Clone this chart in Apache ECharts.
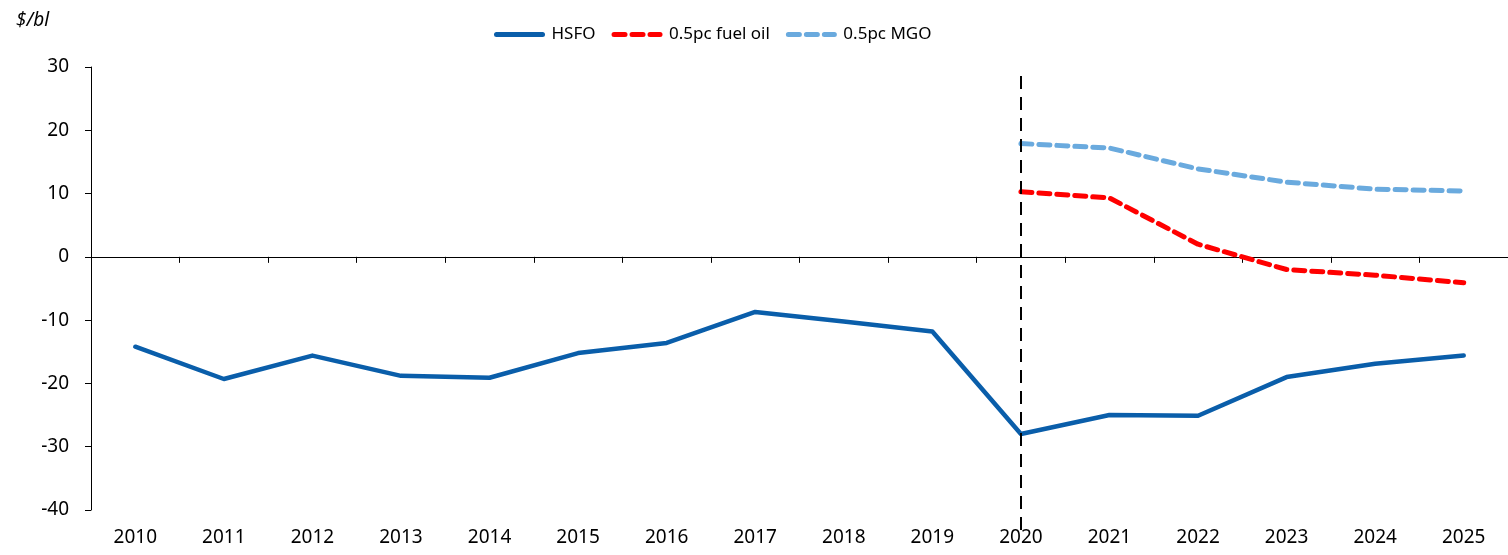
<!DOCTYPE html>
<html><head><meta charset="utf-8">
<script src="https://cdn.jsdelivr.net/npm/echarts@6/dist/echarts.min.js"></script>
<style>html,body{margin:0;padding:0;background:#fff}#c{width:1508px;height:555px}</style>
</head><body><div id="c"></div>
<script>
const categories = ['2010','2011','2012','2013','2014','2015','2016','2017','2018','2019','2020','2021','2022','2023','2024','2025'];
const hsfo = [-14.2,-19.3,-15.6,-18.8,-19.1,-15.2,-13.6,-8.7,-10.2,-11.8,-28.0,-25.0,-25.1,-19.0,-16.9,-15.6];
const fuelOil = [null,null,null,null,null,null,null,null,null,null,10.3,9.3,2.0,-2.0,-2.9,-4.1];
const mgo = [null,null,null,null,null,null,null,null,null,null,17.9,17.2,13.9,11.8,10.7,10.4];
const yTicks = {min:-40, max:30, interval:10};
const forecastStart = '2020';

const font = 'Noto Sans, Open Sans, sans-serif';
const fs = 19;
const chart = echarts.init(document.getElementById('c'), null, {renderer:'canvas'});
chart.setOption({
  animation:false,
  backgroundColor:'#fff',
  title:{text:'$/bl', left:11, top:6, textStyle:{fontFamily:font, fontSize:fs, fontStyle:'italic', fontWeight:'normal', color:'#000'}},
  legend:{
    top:21, left:489, itemWidth:46, itemHeight:10, itemGap:16,
    textStyle:{fontFamily:font, fontSize:17, color:'#000', padding:[0,0,0,4]},
    lineStyle:{width:5, cap:'round'},
    itemStyle:{opacity:0},
    data:['HSFO','0.5pc fuel oil','0.5pc MGO']
  },
  grid:[
    {left:91, right:0, top:67, bottom:45, containLabel:false},
    {left:91, right:0, top:75, bottom:25, containLabel:false, show:false}
  ],
  xAxis:[
    {type:'category', data:categories, boundaryGap:true, position:'bottom', gridIndex:0,
     axisLine:{show:false, onZero:false}, axisTick:{show:false},
     axisLabel:{fontFamily:font, fontSize:fs, color:'#000', margin:18}},
    {type:'category', data:categories, boundaryGap:true, position:'bottom', gridIndex:0,
     axisLine:{show:true, onZero:true, lineStyle:{color:'#000', width:1}},
     axisTick:{show:true, length:6, lineStyle:{color:'#000'}}, axisLabel:{show:false}},
    {type:'category', data:categories, boundaryGap:true, gridIndex:1, show:false}
  ],
  yAxis:[
    {type:'value', min:yTicks.min, max:yTicks.max, interval:yTicks.interval, gridIndex:0,
    splitLine:{show:false},
    axisLine:{show:true, lineStyle:{color:'#000', width:1}},
    axisTick:{show:true, length:6, lineStyle:{color:'#000'}},
    axisLabel:{fontFamily:font, fontSize:fs, color:'#000', margin:22}},
    {type:'value', min:0, max:1, gridIndex:1, show:false}
  ],
  series:[
    {name:'HSFO', type:'line', data:hsfo, symbol:'none', smooth:false, z:2,
     lineStyle:{width:4.5, color:'#0A5EAA', cap:'round', join:'round'}, itemStyle:{color:'#0A5EAA'}},
    {name:'0.5pc fuel oil', type:'line', data:fuelOil, symbol:'none', smooth:false, z:3,
     lineStyle:{width:5, color:'#FF0000', type:[11,7], cap:'round', join:'round'}, itemStyle:{color:'#FF0000'}},
    {name:'0.5pc MGO', type:'line', data:mgo, symbol:'none', smooth:false, z:3,
     lineStyle:{width:5, color:'#6AAADE', type:[11,7], cap:'round', join:'round'}, itemStyle:{color:'#6AAADE'}},
    {name:'forecast', type:'line', xAxisIndex:2, yAxisIndex:1, data:[], z:10,
     markLine:{symbol:'none', silent:true, z:10, label:{show:false},
       lineStyle:{color:'#000', width:2, type:[13,8]},
       data:[{xAxis:forecastStart}]}}
  ]
});
</script></body></html>
